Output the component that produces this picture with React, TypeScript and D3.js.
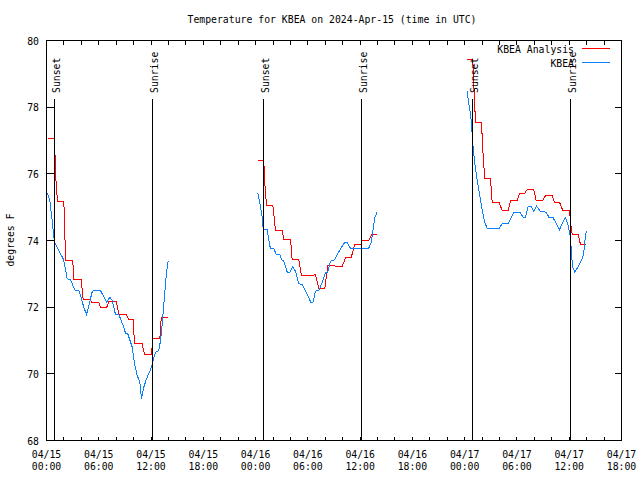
import React from "react";
import * as d3 from "d3";

// Hours since 04/15 00:00 UTC, one inner list per contiguous segment
const analysisHours = [
  [0.17, 0.92, 1.03, 1.15, 1.3, 1.99, 2.1, 2.18, 3.02, 3.13, 3.98, 4.21, 5.05, 5.17, 6.0, 6.2, 6.89, 7.15, 8.03, 8.3, 9.18, 9.41, 9.95, 10.1, 10.98, 11.25, 12.05, 12.2, 13.01, 13.17, 13.97],
  [24.25, 24.94, 25.06, 25.25, 25.98, 26.29, 27.05, 27.24, 28.01, 28.2, 28.96, 29.27, 30.19, 30.88, 31.26, 31.94, 32.29, 33.06, 33.17, 33.94, 34.32, 34.97, 35.35, 36.12, 36.24, 36.99, 37.3, 37.96],
  [48.29, 48.93, 49.13, 49.24, 49.93, 50.08, 50.31, 50.96, 51.16, 51.92, 52.31, 53.0, 53.26, 54.03, 54.29, 54.9, 55.18, 55.93, 56.21, 56.97, 57.28, 58.05, 58.31, 58.88, 59.26, 60.03, 60.15, 60.34, 61.03, 61.29, 61.95],
];
const analysisTemps = [
  [77.06, 77.06, 76.1, 75.5, 75.18, 75.18, 74.3, 73.4, 73.4, 72.82, 72.82, 72.22, 72.22, 72.15, 72.15, 71.98, 71.98, 72.17, 72.17, 71.78, 71.78, 71.63, 71.63, 70.9, 70.9, 70.58, 70.58, 71.07, 71.07, 71.68, 71.68],
  [76.39, 76.39, 75.7, 75.05, 75.05, 74.3, 74.3, 74.03, 74.03, 73.43, 73.43, 72.95, 72.95, 72.97, 72.55, 72.55, 73.25, 73.25, 73.22, 73.22, 73.48, 73.48, 73.87, 73.87, 74.0, 74.0, 74.17, 74.17],
  [79.42, 79.42, 78.2, 77.55, 77.55, 76.7, 75.85, 75.85, 75.15, 75.15, 74.9, 74.9, 75.2, 75.2, 75.42, 75.42, 75.53, 75.53, 75.2, 75.2, 75.35, 75.35, 75.15, 75.15, 74.9, 74.9, 74.55, 74.18, 74.18, 73.88, 73.88],
];

const obsHours = [
  [0.11, 0.38, 0.65, 0.84, 1.0, 1.41, 1.92, 2.18, 2.38, 2.75, 3.13, 3.33, 3.71, 3.9, 4.28, 4.59, 4.86, 5.25, 5.43, 6.2, 6.89, 7.27, 7.54, 7.92, 8.3, 8.87, 9.07, 9.33, 9.84, 10.1, 10.41, 10.71, 10.9, 11.17, 11.48, 12.05, 12.2, 12.51, 12.89, 13.09, 13.28, 13.54, 13.77, 13.97],
  [24.25, 24.48, 24.76, 24.87, 25.33, 25.52, 25.71, 26.09, 26.4, 26.78, 27.05, 27.24, 27.63, 27.93, 28.27, 28.58, 28.96, 29.35, 29.92, 30.38, 30.57, 30.88, 31.26, 31.65, 32.02, 32.29, 32.6, 33.06, 33.37, 33.75, 34.21, 34.52, 34.89, 36.99, 37.27, 37.5, 37.68, 37.96],
  [48.29, 48.47, 48.67, 48.78, 48.93, 49.16, 49.44, 49.7, 50.01, 50.31, 50.59, 51.92, 52.31, 53.0, 53.64, 54.33, 54.72, 54.98, 55.29, 55.64, 55.94, 56.24, 56.7, 57.36, 57.66, 58.12, 58.42, 58.88, 59.26, 59.57, 59.88, 60.15, 60.26, 60.41, 60.64, 61.1, 61.49, 61.68, 61.8, 61.96],
];
const obsTemps = [
  [75.41, 75.2, 74.6, 74.1, 73.9, 73.7, 73.45, 73.15, 72.85, 72.83, 72.58, 72.5, 72.5, 72.35, 72.0, 71.78, 72.05, 72.47, 72.5, 72.5, 72.15, 72.3, 72.2, 71.78, 71.78, 71.4, 71.22, 71.2, 70.8, 70.3, 69.95, 69.75, 69.25, 69.6, 69.85, 70.2, 70.38, 70.65, 70.7, 71.0, 71.5, 72.3, 73.05, 73.4],
  [75.42, 75.15, 74.7, 74.35, 74.32, 74.0, 73.75, 73.75, 73.57, 73.57, 73.4, 73.38, 73.05, 73.05, 73.22, 73.07, 72.7, 72.68, 72.38, 72.13, 72.13, 72.48, 72.5, 72.75, 73.03, 73.05, 73.38, 73.42, 73.58, 73.75, 73.93, 73.93, 73.77, 73.77, 73.95, 74.35, 74.68, 74.87],
  [78.48, 78.1, 77.8, 77.5, 76.9, 76.3, 75.8, 75.4, 74.9, 74.55, 74.35, 74.35, 74.5, 74.5, 74.85, 74.85, 74.7, 74.7, 75.03, 75.03, 74.87, 75.03, 74.87, 74.85, 74.7, 74.7, 74.55, 74.32, 74.55, 74.68, 74.45, 74.1, 73.55, 73.2, 73.05, 73.25, 73.45, 73.65, 74.0, 74.3],
];

const sunsetHours = [0.92, 24.91, 48.91];
const sunriseHours = [12.17, 36.17, 60.16];

const xLabelHours = [0, 6, 12, 18, 24, 30, 36, 42, 48, 54, 60, 66];
const xLabelDates = ["04/15", "04/15", "04/15", "04/15", "04/16", "04/16", "04/16", "04/16", "04/17", "04/17", "04/17", "04/17"];
const xLabelTimes = ["00:00", "06:00", "12:00", "18:00", "00:00", "06:00", "12:00", "18:00", "00:00", "06:00", "12:00", "18:00"];
const yTicks = [68, 70, 72, 74, 76, 78, 80];

const seriesNames = ["KBEA Analysis", "KBEA"];
const seriesColors = ["#ff0000", "#0a80ff"];

const FONT = "'DejaVu Sans Mono', 'Liberation Mono', monospace";

export default function App() {
  const W = 640, H = 480;
  const L = 46.5, R = 621.5, T = 40.5, B = 440.5;
  const x = d3.scaleLinear().domain([0, 66]).range([L, R]);
  const y = d3.scaleLinear().domain([68, 80]).range([B, T]);
  const minorHours = d3.range(2, 66, 2);

  const line = d3.line<[number, number]>().x((d) => x(d[0])).y((d) => y(d[1]));
  const segs = (hs: number[][], vs: number[][]) =>
    hs.map((h, i) => h.map((t, j) => [t, vs[i][j]] as [number, number]));
  const aSegs = segs(analysisHours, analysisTemps);
  const oSegs = segs(obsHours, obsTemps);
  const px = (h: number) => Math.round(x(h) - 0.5) + 0.5;

  const lineTop = 99;
  const fs = 9.8;

  return (
    <svg width={W} height={H} style={{ position: "absolute", left: 0, top: 0, background: "#fff" }} fontFamily={FONT} fontSize={fs}>
      <rect x={0} y={0} width={W} height={H} fill="#fff" />
      <text x={332} y={23} textAnchor="middle">Temperature for KBEA on 2024-Apr-15 (time in UTC)</text>

      {/* y ticks */}
      {yTicks.map((v) => (
        <g key={"y" + v}>
          <line x1={L} x2={L + 7} y1={Math.round(y(v) - 0.5) + 0.5} y2={Math.round(y(v) - 0.5) + 0.5} stroke="#000" shapeRendering="crispEdges" />
          <line x1={R - 7} x2={R} y1={Math.round(y(v) - 0.5) + 0.5} y2={Math.round(y(v) - 0.5) + 0.5} stroke="#000" shapeRendering="crispEdges" />
          <text x={39} y={y(v) + 4} textAnchor="end">{v}</text>
        </g>
      ))}
      {/* x ticks */}
      {minorHours.map((h) => (
        <g key={"x" + h}>
          <line x1={px(h)} x2={px(h)} y1={B} y2={B - 4} stroke="#000" shapeRendering="crispEdges" />
          <line x1={px(h)} x2={px(h)} y1={T} y2={T + 4} stroke="#000" shapeRendering="crispEdges" />
        </g>
      ))}
      {xLabelHours.map((h, i) => (
        <g key={"xl" + h}>
          <text x={x(h)} y={458} textAnchor="middle">{xLabelDates[i]}</text>
          <text x={x(h)} y={470} textAnchor="middle">{xLabelTimes[i]}</text>
        </g>
      ))}

      <text transform={`translate(14,240) rotate(-90)`} textAnchor="middle">degrees F</text>

      {/* data */}
      {aSegs.map((s, i) => (
        <path key={"a" + i} d={line(s) || ""} fill="none" stroke={seriesColors[0]} strokeWidth={1} shapeRendering="crispEdges" />
      ))}
      {oSegs.map((s, i) => (
        <path key={"o" + i} d={line(s) || ""} fill="none" stroke={seriesColors[1]} strokeWidth={1} shapeRendering="crispEdges" />
      ))}

      {/* sunset / sunrise */}
      {sunsetHours.map((h) => (
        <g key={"ss" + h}>
          <line x1={px(h)} x2={px(h)} y1={lineTop} y2={B} stroke="#000" shapeRendering="crispEdges" />
          <text transform={`translate(${px(h) + 5},93) rotate(-90)`} textAnchor="start">Sunset</text>
        </g>
      ))}
      {sunriseHours.map((h) => (
        <g key={"sr" + h}>
          <line x1={px(h)} x2={px(h)} y1={lineTop} y2={B} stroke="#000" shapeRendering="crispEdges" />
          <text transform={`translate(${px(h) + 5},93) rotate(-90)`} textAnchor="start">Sunrise</text>
        </g>
      ))}

      {/* legend */}
      {seriesNames.map((n, i) => (
        <g key={n}>
          <text x={574} y={52.5 + i * 14} textAnchor="end">{n}</text>
          <line x1={582} x2={610} y1={48.5 + i * 14} y2={48.5 + i * 14} stroke={seriesColors[i]} shapeRendering="crispEdges" />
        </g>
      ))}

      <rect x={L} y={T} width={R - L} height={B - T} fill="none" stroke="#000" shapeRendering="crispEdges" />
    </svg>
  );
}
